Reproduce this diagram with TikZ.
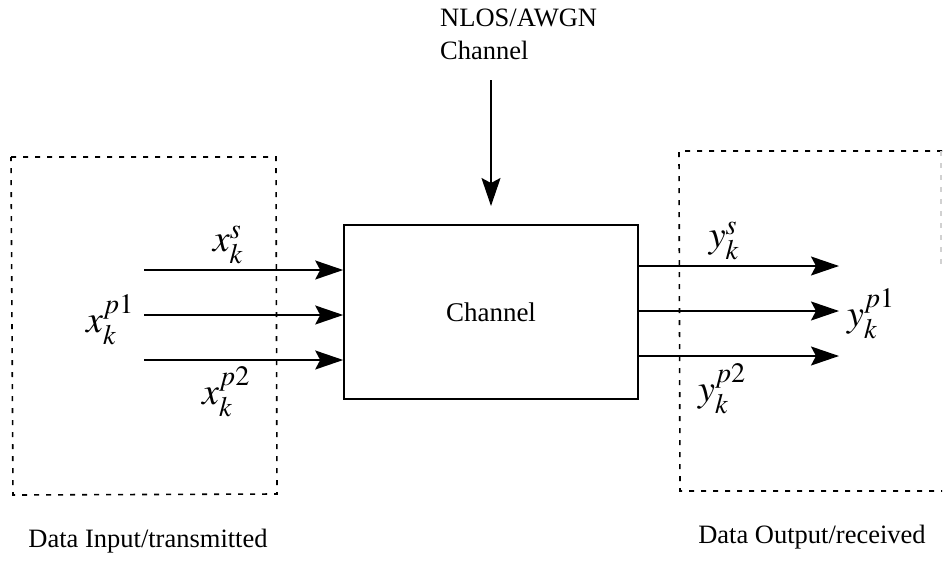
\documentclass[tikz,border=0pt]{standalone}
\usepackage{mathptmx}
\usepackage{fontspec}
\setmainfont{Liberation Serif}
\usetikzlibrary{arrows.meta,calc}

\begin{document}
\begin{tikzpicture}[x=1pt,y=-1pt,
  sig/.style={inner sep=0pt,font=\fontsize{38}{42}\selectfont},
  lbl/.style={inner sep=0pt,font=\fontsize{26.5}{33}\selectfont},
  flow/.style={line width=1.8pt,-{Stealth[length=28pt,width=19pt,inset=5pt]}},
  group/.style={line width=1.6pt,dash pattern=on 5pt off 7pt},
  block/.style={draw,line width=1.6pt,minimum width=294pt,minimum height=174pt,inner sep=0pt}]
  \useasboundingbox (0,0) rectangle (943,560);

  % channel block
  \node[block,font=\fontsize{27}{32}\selectfont] (ch) at (491,312) {Channel};

  % transmitter and receiver groups
  \draw[group] (11,157) -- (276,157) -- (277,494) -- (13,495) -- cycle;
  \draw[group] (942,151) -- (679,151) -- (680,491) -- (942,491);
  \draw[group,black!18] (941,151) -- (941,268);

  % disturbance input
  \node[lbl,align=left,anchor=north west] (noise) at (440,9) {NLOS/AWGN\\Channel};
  \coordinate (ntop) at (491,80);
  \draw[flow] (ntop) -- (ntop |- 0,206);

  % input streams
  \coordinate (i1) at (144,270);
  \coordinate (i2) at (144,315);
  \coordinate (i3) at (144,360);
  \draw[flow] (i1) -- (ch.west |- i1);
  \draw[flow] (i2) -- (ch.west |- i2);
  \draw[flow] (i3) -- (ch.west |- i3);

  % output streams
  \coordinate (o1) at (839,266);
  \coordinate (o2) at (839,311);
  \coordinate (o3) at (839,356);
  \draw[flow] (ch.east |- o1) -- (o1);
  \draw[flow] (ch.east |- o2) -- (o2);
  \draw[flow] (ch.east |- o3) -- (o3);

  % signal labels
  \node[sig] (xs)  at (228,245) {$x_k^{s}$};
  \node[sig] (xp1) at (110,320) {$x_k^{p1}$};
  \node[sig] (xp2) at (226,392) {$x_k^{p2}$};
  \node[sig] (ys)  at (724,241) {$y_k^{s}$};
  \node[sig] (yp1) at (871,314) {$y_k^{p1}$};
  \node[sig] (yp2) at (722,389) {$y_k^{p2}$};

  % group captions
  \node[lbl] (tx) at (148,541) {Data Input/transmitted};
  \node[lbl] (rx) at (812,537) {Data Output/received};
\end{tikzpicture}
\end{document}
